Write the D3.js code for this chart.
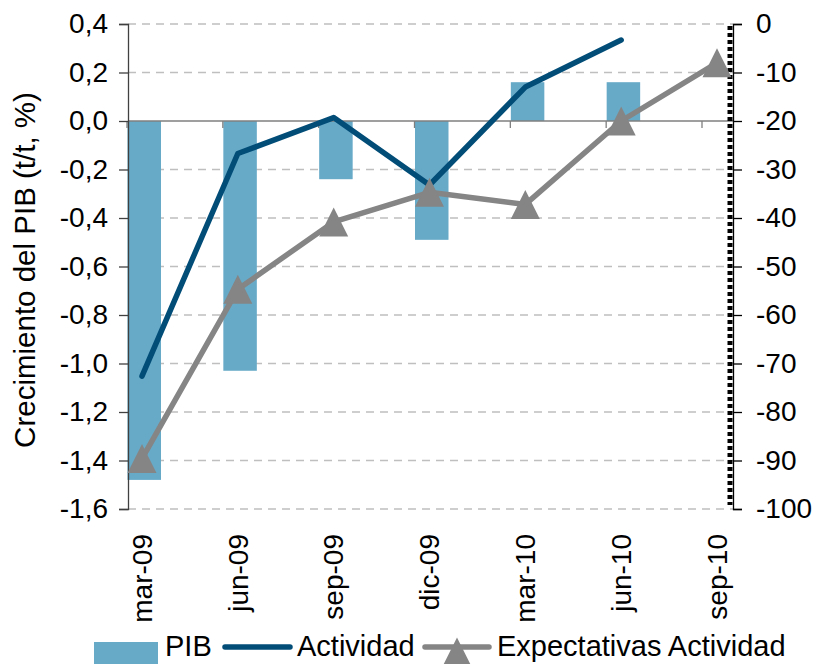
<!DOCTYPE html>
<html><head><meta charset="utf-8">
<script src="https://cdn.jsdelivr.net/npm/d3@7"></script>
<style>body{margin:0;background:#fff}svg{display:block}text{font-family:"Liberation Sans",Arial,sans-serif;fill:#000}</style>
</head><body>
<svg id="c" width="816" height="664"></svg>
<script>
const categories = ["mar-09","jun-09","sep-09","dic-09","mar-10","jun-10","sep-10"];
const pib = [-1.48, -1.03, -0.24, -0.49, 0.16, 0.16, null];
const actividad = [-72.6, -26.7, -19.3, -33.2, -13.0, -3.3, null];
const expectativas = [-89.6, -54.7, -40.8, -34.7, -37.2, -20.0, -8.0];
const leftTicks = [0.4,0.2,0.0,-0.2,-0.4,-0.6,-0.8,-1.0,-1.2,-1.4,-1.6];
const rightTicks = [0,-10,-20,-30,-40,-50,-60,-70,-80,-90,-100];
const legendLabels = ["PIB","Actividad","Expectativas Actividad"];

const svg = d3.select("#c");
const L = 128, R = 733, T = 24, B = 509;
const x = d3.scalePoint().domain(categories).range([142, 717]);
const yL = d3.scaleLinear().domain([-1.6, 0.4]).range([B, T]);
const yR = d3.scaleLinear().domain([-100, 0]).range([B, T]);
const fmt = v => d3.format(".1f")(v).replace(".", ",").replace("−","-");

const barCol = "#67AAC8", actCol = "#024D78", expCol = "#858585";

// gridlines
svg.append("g").selectAll("line").data(leftTicks.filter(v => v !== 0)).join("line")
  .attr("x1", L).attr("x2", R).attr("y1", d => yL(d)).attr("y2", d => yL(d))
  .attr("stroke", "#BFBFBF").attr("stroke-width", 1.3).attr("stroke-dasharray", "8,6");

// bars
svg.append("g").selectAll("rect").data(categories.map((c,i)=>({c,v:pib[i]})).filter(d=>d.v!==null)).join("rect")
  .attr("x", d => x(d.c) - 14.5).attr("width", 33.5)
  .attr("y", d => Math.min(yL(d.v), yL(0))).attr("height", d => Math.abs(yL(d.v) - yL(0)))
  .attr("fill", barCol);

// zero line + category ticks
svg.append("line").attr("x1", L).attr("x2", R).attr("y1", yL(0)).attr("y2", yL(0))
  .attr("stroke", "#7F7F7F").attr("stroke-width", 1.5);
svg.append("g").selectAll("line").data(categories).join("line")
  .attr("x1", d => x(d) - 15).attr("x2", d => x(d) - 15)
  .attr("y1", yL(0)).attr("y2", yL(0) + 7).attr("stroke", "#7F7F7F").attr("stroke-width", 1.3);

// left axis
const gl = svg.append("g").attr("transform", `translate(${L},0)`)
  .call(d3.axisLeft(yL).tickValues(leftTicks).tickFormat(fmt).tickSize(9).tickPadding(11));
gl.select(".domain").attr("stroke", "#404040").attr("stroke-width", 1.3);
gl.selectAll(".tick line").attr("stroke", "#404040").attr("stroke-width", 1.3);
gl.selectAll("text").attr("font-size", 28).attr("font-family", "Liberation Sans").attr("fill", "#000");

// right axis
const gr = svg.append("g").attr("transform", `translate(${R},0)`)
  .call(d3.axisRight(yR).tickValues(rightTicks).tickFormat(d => String(d)).tickSize(9).tickPadding(14));
gr.select(".domain").attr("stroke", "#000").attr("stroke-width", 1.3);
gr.selectAll(".tick line").attr("stroke", "#000").attr("stroke-width", 1.3);
gr.selectAll("text").attr("font-size", 28).attr("font-family", "Liberation Sans").attr("fill", "#000");

// dotted vertical line
svg.append("line").attr("x1", R - 3).attr("x2", R - 3).attr("y1", yR(0) + 2).attr("y2", yR(-100) - 4)
  .attr("stroke", "#000").attr("stroke-width", 5).attr("stroke-dasharray", "4,3");

// lines
const lineGen = yS => d3.line().defined(d => d.v !== null).x(d => x(d.c)).y(d => yS(d.v));
svg.append("path").datum(categories.map((c,i)=>({c,v:actividad[i]})))
  .attr("d", lineGen(yR)).attr("fill", "none").attr("stroke", actCol).attr("stroke-width", 5.5)
  .attr("stroke-linecap", "round").attr("stroke-linejoin", "round");
const expData = categories.map((c,i)=>({c,v:expectativas[i]}));
svg.append("path").datum(expData)
  .attr("d", lineGen(yR)).attr("fill", "none").attr("stroke", expCol).attr("stroke-width", 5.5)
  .attr("stroke-linecap", "round").attr("stroke-linejoin", "round");
const tri = "M0,-14.5L14.5,14.5L-14.5,14.5Z";
svg.append("g").selectAll("path").data(expData.filter(d=>d.v!==null)).join("path")
  .attr("transform", d => `translate(${x(d.c)},${yR(d.v)})`).attr("d", tri).attr("fill", expCol);

// x labels
svg.append("g").selectAll("text").data(categories).join("text")
  .attr("transform", d => `translate(${x(d)},534) rotate(-90)`)
  .attr("text-anchor", "end").attr("dy", "0.35em").attr("font-size", 28).text(d => d);

// y title
svg.append("text").attr("transform", "translate(35,270) rotate(-90)")
  .attr("text-anchor", "middle").attr("font-size", 29.5).text("Crecimiento del PIB (t/t, %)");

// legend
const lg = svg.append("g");
lg.append("rect").attr("x", 94).attr("y", 642).attr("width", 64).attr("height", 22).attr("fill", barCol);
lg.append("text").attr("x", 165).attr("y", 656).attr("font-size", 29).text(legendLabels[0]);
lg.append("line").attr("x1", 225).attr("x2", 290).attr("y1", 647).attr("y2", 647)
  .attr("stroke", actCol).attr("stroke-width", 5.5).attr("stroke-linecap", "round");
lg.append("text").attr("x", 297).attr("y", 656).attr("font-size", 29).text(legendLabels[1]);
lg.append("line").attr("x1", 425).attr("x2", 489).attr("y1", 647).attr("y2", 647)
  .attr("stroke", expCol).attr("stroke-width", 5.5).attr("stroke-linecap", "round");
lg.append("path").attr("transform", "translate(457,652)").attr("d", tri).attr("fill", expCol);
lg.append("text").attr("x", 497).attr("y", 656).attr("font-size", 29).text(legendLabels[2]);
</script>
</body></html>
